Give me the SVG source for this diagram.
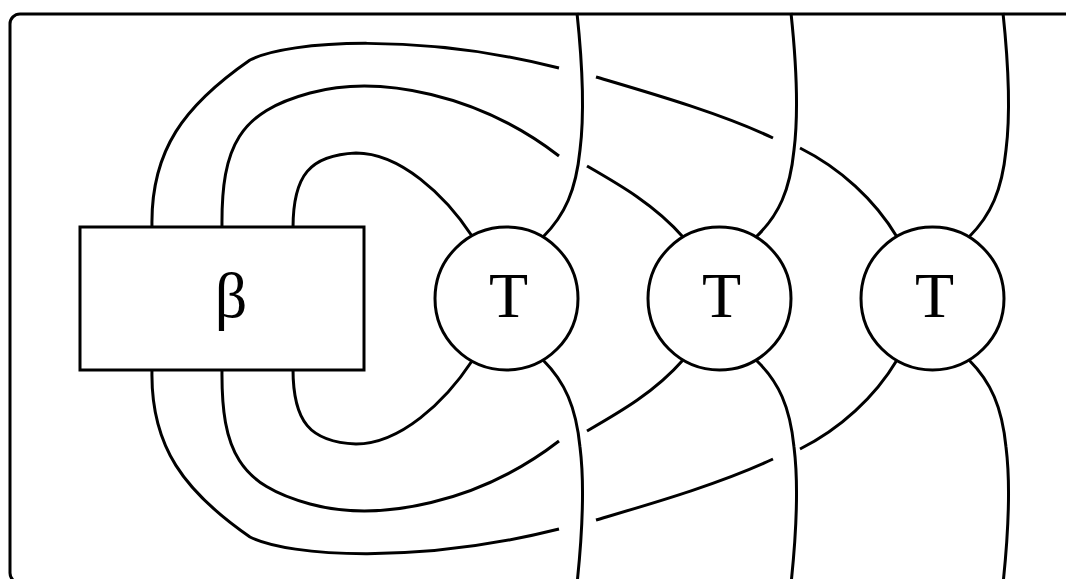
<svg xmlns="http://www.w3.org/2000/svg" width="1066" height="579" viewBox="0 0 1066 579">
<style>
.ln{fill:none;stroke:#000;stroke-width:3;stroke-linecap:butt;stroke-linejoin:round}
.nd{fill:#fff;stroke:#000;stroke-width:3}
.lb{font-family:"Liberation Serif","Times New Roman",serif;font-size:64px;fill:#000;text-anchor:middle}
</style>
<rect id="frame" x="10" y="14" width="1070" height="569" rx="10" class="ln"/>
<g id="connectors">
<path class="ln" d="M293,228 C293,175 310,155 356,153 C400,153 445,195 472,236"/>
<path class="ln" d="M293,369 C293,422 310,442 356,444 C400,444 445,402 472,361"/>
<path class="ln" d="M222,228 C221,145 240,112 310,93 C380,74 480,95 559,156"/>
<path class="ln" d="M587,166 C620,185 655,205 683,237"/>
<path class="ln" d="M222,369 C221,452 240,485 310,504 C380,523 480,502 559,441"/>
<path class="ln" d="M587,431 C620,412 655,392 683,360"/>
<path class="ln" d="M152,228 C150,150 185,105 250,60 C290,40 420,33 559,68"/>
<path class="ln" d="M596,77 C650,93 720,113 773,138"/>
<path class="ln" d="M800,148 C840,168 875,200 897,237"/>
<path class="ln" d="M152,369 C150,447 185,492 250,537 C290,557 420,564 559,529"/>
<path class="ln" d="M596,520 C650,504 720,484 773,459"/>
<path class="ln" d="M800,449 C840,429 875,397 897,360"/>
<path class="ln" d="M577,13 C582,60 585,110 580,150 C576,190 565,215 543,237"/>
<path class="ln" d="M577,584 C582,537 585,487 580,447 C576,407 565,382 543,360"/>
<path class="ln" d="M791,13 C796,60 799,110 794,150 C790,190 779,215 756,237"/>
<path class="ln" d="M791,584 C796,537 799,487 794,447 C790,407 779,382 756,360"/>
<path class="ln" d="M1003,13 C1008,60 1011,110 1006,150 C1002,190 991,215 969,237"/>
<path class="ln" d="M1003,584 C1008,537 1011,487 1006,447 C1002,407 991,382 969,360"/>
</g>
<g id="beta">
<rect x="80" y="227" width="284" height="143" class="nd"/>
<text x="231" y="317" class="lb">β</text>
</g>
<g id="T1">
<circle cx="506.5" cy="298.5" r="71.5" class="nd"/>
<text x="508.5" y="317" class="lb">T</text>
</g>
<g id="T2">
<circle cx="719.5" cy="298.5" r="71.5" class="nd"/>
<text x="721.5" y="317" class="lb">T</text>
</g>
<g id="T3">
<circle cx="932.5" cy="298.5" r="71.5" class="nd"/>
<text x="934.5" y="317" class="lb">T</text>
</g>
</svg>
